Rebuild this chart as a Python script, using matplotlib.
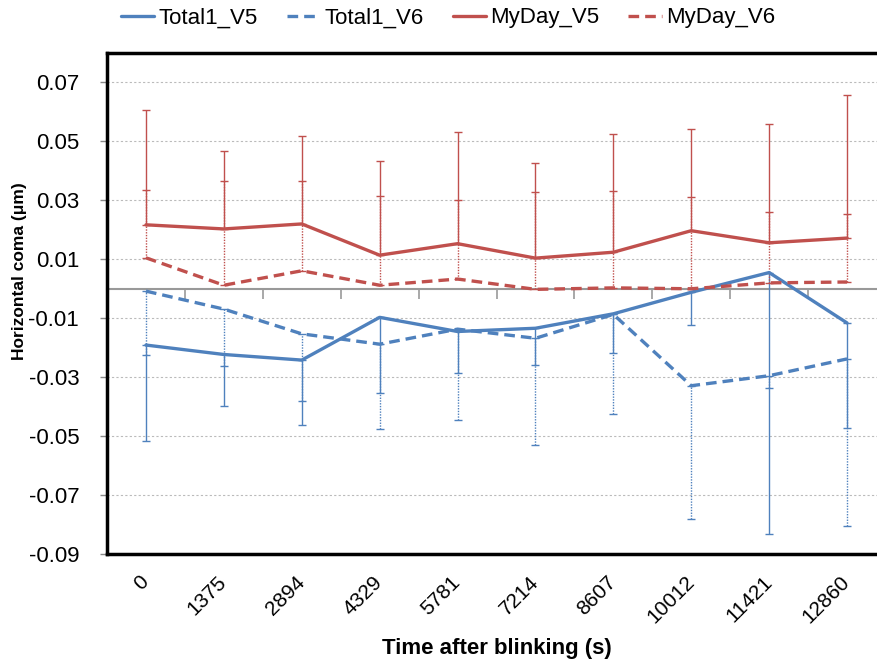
import matplotlib
matplotlib.use("Agg")
import matplotlib.pyplot as plt
import numpy as np

plt.rcParams['font.family'] = ['Liberation Sans', 'DejaVu Sans']

# data
times = ['0', '1375', '2894', '4329', '5781', '7214', '8607', '10012', '11421', '12860']

total1_v5 = [-0.0191, -0.0223, -0.0242, -0.0097, -0.0145, -0.0134, -0.0085, -0.0012, 0.0055, -0.0116]
total1_v6 = [-0.0008, -0.0069, -0.0153, -0.0188, -0.0137, -0.0168, -0.0087, -0.0329, -0.0295, -0.0238]
myday_v5 = [0.0217, 0.0203, 0.0220, 0.0114, 0.0153, 0.0104, 0.0124, 0.0197, 0.0156, 0.0172]
myday_v6 = [0.0105, 0.0012, 0.0061, 0.0012, 0.0033, -0.0002, 0.0003, 0.0000, 0.0020, 0.0023]

# error bar ends (one-sided: blue down, red up)
total1_v5_low = [-0.0518, -0.0399, -0.0462, -0.0354, -0.0286, -0.0259, -0.0219, -0.0123, -0.0832, -0.0472]
total1_v6_low = [-0.0226, -0.0261, -0.0380, -0.0476, -0.0444, -0.0530, -0.0425, -0.0780, -0.0338, -0.0806]
myday_v5_high = [0.0607, 0.0467, 0.0520, 0.0435, 0.0531, 0.0428, 0.0524, 0.0543, 0.0560, 0.0657]
myday_v6_high = [0.0336, 0.0365, 0.0365, 0.0316, 0.0300, 0.0329, 0.0332, 0.0313, 0.0261, 0.0252]

blue = '#4F81BD'
red = '#C0504D'

fig = plt.figure(figsize=(8.77, 6.69), dpi=100)
ax = fig.add_axes([107 / 877, 115 / 669, 779 / 877, 501 / 669])
x = np.arange(len(times))

series = [
    ('Total1_V5', total1_v5, total1_v5_low, None, blue, '-'),
    ('Total1_V6', total1_v6, total1_v6_low, None, blue, '--'),
    ('MyDay_V5', myday_v5, None, myday_v5_high, red, '-'),
    ('MyDay_V6', myday_v6, None, myday_v6_high, red, '--'),
]

handles = []
for name, vals, low, high, col, ls in series:
    vals = np.array(vals)
    zeros = np.zeros_like(vals)
    if low is not None:
        yerr = [vals - np.array(low), zeros]
    else:
        yerr = [zeros, np.array(high) - vals]
    eb = ax.errorbar(x, vals, yerr=yerr, fmt='none', ecolor=col, elinewidth=1.0,
                     capsize=3, capthick=1.0, zorder=2)
    if ls == '--':
        eb[2][0].set_linestyle((0, (1, 1)))
    line, = ax.plot(x, vals, color=col, lw=2.4, label=name, zorder=3,
                    solid_capstyle='round')
    if ls == '--':
        line.set_dashes((3.2, 1.8))
    handles.append(line)

ax.set_xlim(-0.5, 9.5)
ax.set_ylim(-0.09, 0.08)
yt = np.arange(-0.09, 0.071, 0.02)
ax.set_yticks(yt)
ax.set_yticklabels([f'{v:.2f}' for v in yt], fontsize=16)
ax.yaxis.grid(True, color='#BBBBBB', linestyle=(0, (2, 2)), lw=0.8)
ax.set_axisbelow(True)
ax.tick_params(axis='y', direction='out', length=5, color='#888888', width=1, pad=15)

ax.set_xticks(x)
ax.set_xticklabels(times, fontsize=15, rotation=45, ha='right', va='center',
                   rotation_mode='anchor')
ax.tick_params(axis='x', length=0, pad=18)

for s in ['left', 'top', 'bottom', 'right']:
    ax.spines[s].set_linewidth(2.5)
    ax.spines[s].set_color('black')

# horizontal axis line at zero with boundary ticks
sec = ax.secondary_xaxis(0.09 / 0.17)
sec.set_xticks(np.arange(0.5, 10, 1.0))
sec.set_xticklabels([])
sec.tick_params(direction='in', length=7, color='#999999', width=1.2)
for s in sec.spines.values():
    s.set_color('#999999')
    s.set_linewidth(1.5)

ax.set_ylabel('Horizontal coma (μm)', fontsize=12.5, fontweight='bold')
ax.yaxis.label.set_va('center')
ax.yaxis.set_label_coords(-0.112, 0.565)
ax.set_xlabel('Time after blinking (s)', fontsize=16, fontweight='bold')
ax.xaxis.set_label_coords(0.5, -0.188)
ax.xaxis.label.set_va('center')

fig.legend(handles=handles, loc='center', bbox_to_anchor=(448 / 877, 1 - 18 / 669),
           ncol=4, frameon=False, fontsize=16, handlelength=1.5, handletextpad=0.2,
           columnspacing=1.3)

fig.savefig('out.png', dpi=100)
